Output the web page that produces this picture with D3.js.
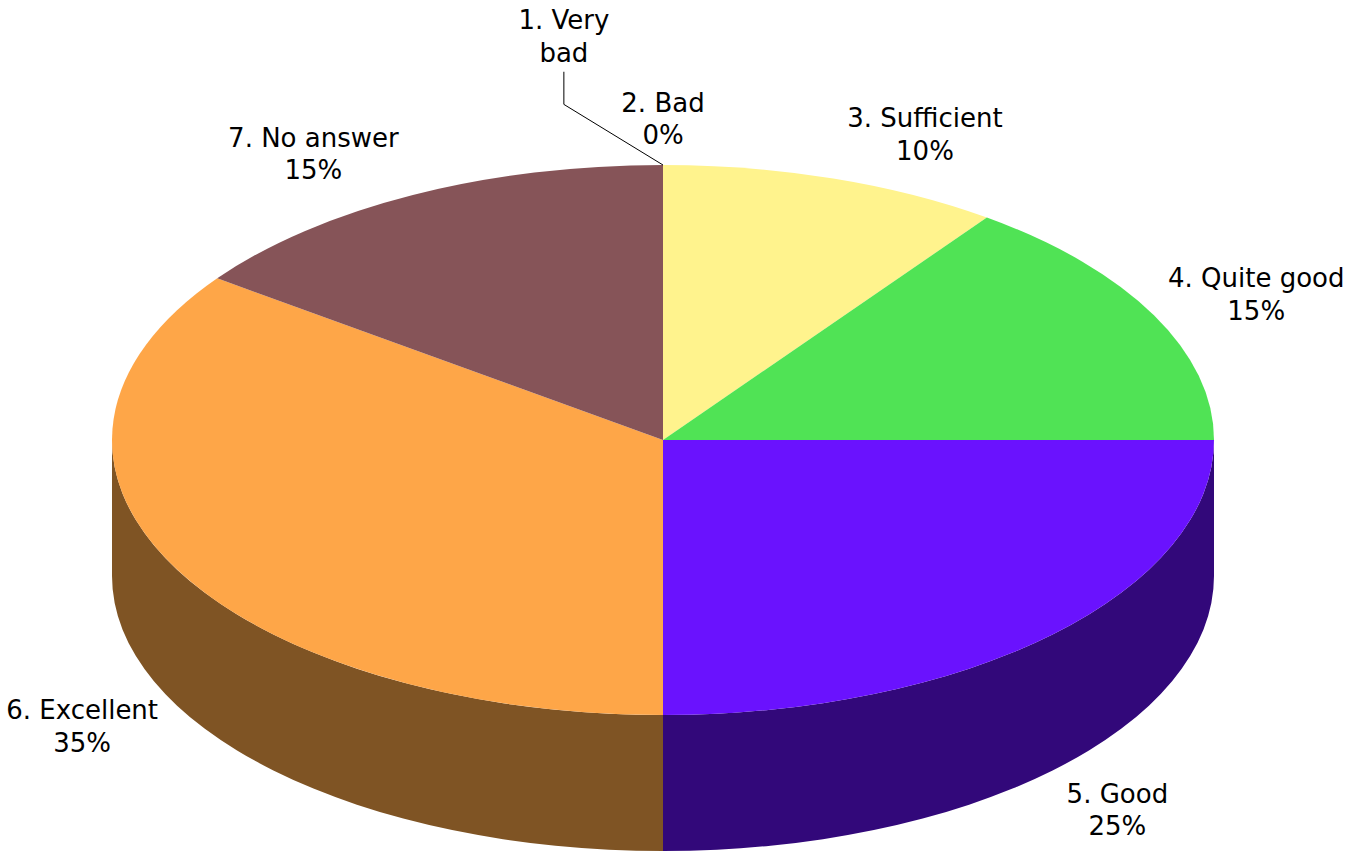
<!DOCTYPE html>
<html>
<head>
<meta charset="utf-8">
<script src="https://cdn.jsdelivr.net/npm/d3@7"></script>
<style>
  html, body { margin: 0; padding: 0; background: #ffffff; }
  svg { display: block; }
  text { font-family: "DejaVu Sans", Verdana, sans-serif; fill: #000; }
</style>
</head>
<body>
<svg id="chart" width="1353" height="853"></svg>
<script>
// Survey answers, share of respondents (%)
const categories = ["1. Very bad", "2. Bad", "3. Sufficient", "4. Quite good", "5. Good", "6. Excellent", "7. No answer"];
const values = [0, 0, 10, 15, 25, 35, 15];
const topColors = ["#c0504d", "#9bbb59", "#fff38d", "#50e355", "#6a12fe", "#fea648", "#865458"];
const sideColors = ["#602826", "#4e5e2d", "#807a47", "#28722b", "#32087a", "#7f5424", "#432a2c"];

const W = 1353, H = 853;
const cx = 663, cy = 440;      // centre of the top face
const rx = 551, ry = 275;      // radii of the top ellipse
const depth = 136;             // thickness of the disc
const fontSize = 26, lineGap = 32.5;

const svg = d3.select("#chart");

const pie = d3.pie().sort(null).value(d => d).startAngle(0).endAngle(2 * Math.PI);
const arcs = pie(values).map((a, i) => ({ ...a, i }));

// point on the ellipse at pie angle t (0 = top, clockwise)
const pt = (t, dy = 0) => [cx + rx * Math.sin(t), cy - ry * Math.cos(t) + dy];
const f = p => p[0].toFixed(2) + "," + p[1].toFixed(2);

// Side walls: only the front half (pi/2 .. 3pi/2) is visible
const sideG = svg.append("g");
arcs.forEach(a => {
  const s = Math.max(a.startAngle, Math.PI / 2);
  const e = Math.min(a.endAngle, 3 * Math.PI / 2);
  if (e - s <= 1e-6) return;
  const large = (e - s) > Math.PI ? 1 : 0;
  const d = "M" + f(pt(s)) +
    " A" + rx + "," + ry + " 0 " + large + " 1 " + f(pt(e)) +
    " L" + f(pt(e, depth)) +
    " A" + rx + "," + ry + " 0 " + large + " 0 " + f(pt(s, depth)) + " Z";
  sideG.append("path").attr("d", d).attr("fill", sideColors[a.i]);
});

// Top face slices
const topG = svg.append("g");
arcs.forEach(a => {
  if (a.endAngle - a.startAngle <= 1e-9) return;
  const large = (a.endAngle - a.startAngle) > Math.PI ? 1 : 0;
  const d = "M" + cx + "," + cy + " L" + f(pt(a.startAngle)) +
    " A" + rx + "," + ry + " 0 " + large + " 1 " + f(pt(a.endAngle)) + " Z";
  topG.append("path").attr("d", d).attr("fill", topColors[a.i]);
});

// Labels: name on the first line, percentage on the second
const total = d3.sum(values);
const pct = v => Math.round(v / total * 100) + "%";
const labelG = svg.append("g");

function makeLabel(lines) {
  const g = labelG.append("g");
  const t = g.append("text").attr("text-anchor", "middle").attr("font-size", fontSize);
  lines.forEach((s, k) => {
    t.append("tspan").attr("x", 0)
      .attr("y", (k - (lines.length - 1) / 2) * lineGap)
      .attr("dominant-baseline", "central").text(s);
  });
  const bb = t.node().getBBox();
  return { g, w: bb.width, h: bb.height };
}

const placed = [];
const overlaps = (a, b) => !(a.x1 < b.x0 || b.x1 < a.x0 || a.y1 < b.y0 || b.y1 < a.y0);

// place from the last slice backwards so earlier zero-size slices get moved aside
for (let j = arcs.length - 1; j >= 0; j--) {
  const a = arcs[j];
  const mid = (a.startAngle + a.endAngle) / 2;
  const s = Math.sin(mid), c = Math.cos(mid);
  const front = c < 0 ? depth : 0;
  const anchor = pt(mid, front);
  let lab = makeLabel([categories[a.i], pct(values[a.i])]);
  const sx = Math.abs(s) < 1e-6 ? 0 : Math.sign(s);
  let x = anchor[0] + sx * (lab.w / 2 + 14);
  let y = anchor[1] - c * (c < 0 ? 56 : 46);
  let box = { x0: x - lab.w / 2, x1: x + lab.w / 2, y0: y - lab.h / 2, y1: y + lab.h / 2 };
  const hit = placed.find(b => overlaps(b, box));
  if (hit) {
    // crowded: wrap the name onto two lines, move it up-left and add a leader line
    lab.g.remove();
    const name = categories[a.i];
    const cut = name.lastIndexOf(" ");
    lab = makeLabel([name.slice(0, cut), name.slice(cut + 1)]);
    x = hit.x0 - 12 - lab.w / 2;
    y = hit.y0 - 20 - lab.h / 2;
    box = { x0: x - lab.w / 2, x1: x + lab.w / 2, y0: y - lab.h / 2, y1: y + lab.h / 2 };
    const y0 = box.y1 + 4;
    const elbowY = y0 + 0.35 * (anchor[1] - y0);
    labelG.append("path")
      .attr("d", "M" + x + "," + y0 + " L" + x + "," + elbowY + " L" + f(anchor))
      .attr("fill", "none").attr("stroke", "#000").attr("stroke-width", 1);
  }
  lab.g.attr("transform", "translate(" + x + "," + y + ")");
  placed.push(box);
}
</script>
</body>
</html>
